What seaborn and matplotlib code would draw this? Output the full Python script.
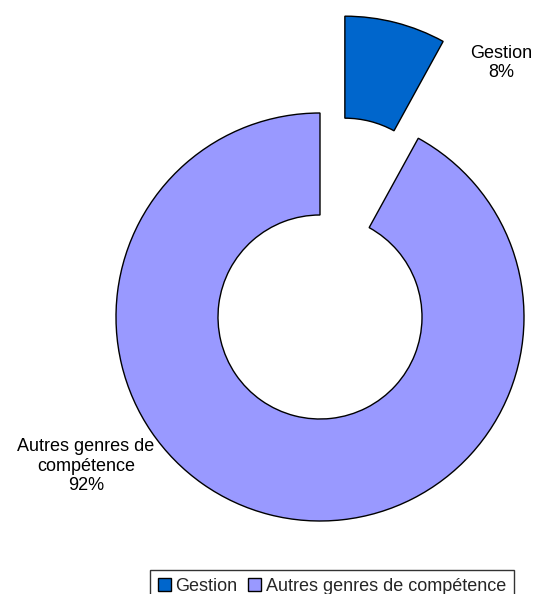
import numpy as np
import matplotlib
matplotlib.use("Agg")
import matplotlib.pyplot as plt
import seaborn as sns

# data
categories = ['Gestion', 'Autres genres de compétence']
label_text = ['Gestion', 'Autres genres de\ncompétence']
values = [8, 92]
colors = ['#0066CC', '#9999FF']

sns.set_style("white")
plt.rcParams['font.family'] = ['Liberation Sans', 'DejaVu Sans']

fig = plt.figure(figsize=(5.33, 5.94), dpi=100)
ax = fig.add_axes([0, 0, 1, 1])

# pie: Gestion slice ends at 12 o'clock, exploded outwards
wedges, _ = ax.pie(values, colors=colors, startangle=90 - values[0] / sum(values) * 360,
                   explode=[0.49, 0], radius=1.0,
                   wedgeprops=dict(width=0.5, edgecolor='black', linewidth=1.0))

# labels with percentages
total = sum(values)
label_pos = [(54.5, 1.53), (212.5, 1.36)]
for txt, v, (ang, dist) in zip(label_text, values, label_pos):
    a = np.deg2rad(ang)
    ax.text(dist * np.cos(a), dist * np.sin(a), '%s\n%d%%' % (txt, round(v / total * 100)),
            ha='center', va='center', fontsize=13, color='black', linespacing=1.2)

# scale: radius = 204 px, centre at (320, 317) px
scale = 204.0
ax.set_xlim(-320 / scale, (533 - 320) / scale)
ax.set_ylim(-(594 - 317) / scale, 317 / scale)
ax.set_aspect('auto')
ax.axis('off')

leg = fig.legend(wedges, categories, loc='upper center', ncol=2,
                 bbox_to_anchor=(332 / 533, 1 - 570 / 594), fontsize=13,
                 frameon=True, fancybox=False, handlelength=0.7, handleheight=0.7,
                 handletextpad=0.25, columnspacing=0.6, borderpad=0.45, borderaxespad=0)
leg.get_frame().set_edgecolor('black')
leg.get_frame().set_linewidth(1.0)

fig.savefig('out.png', dpi=100)
